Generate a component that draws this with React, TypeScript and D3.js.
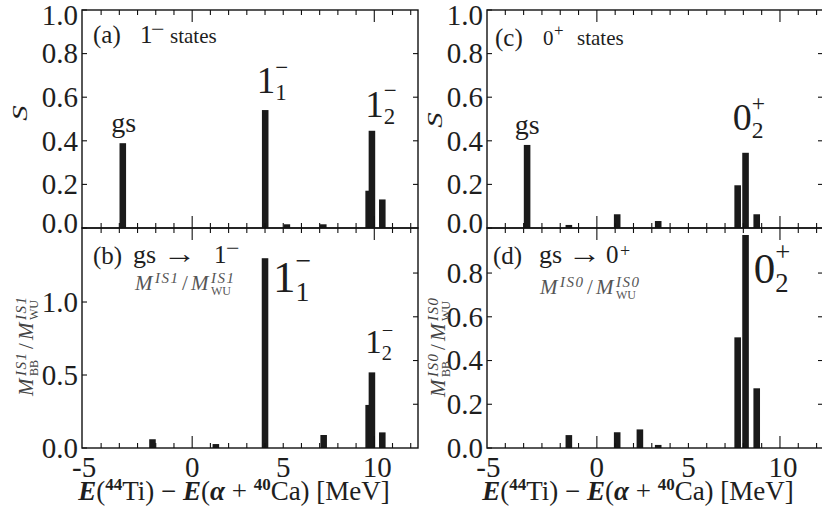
import React from 'react';
import * as d3 from 'd3';

const SERIF = '"Liberation Serif"';

// ---- data ----
const xTickValues = [-5, 0, 5, 10];
const xTickLabels = ['-5', '0', '5', '10'];
const xLongTicks = [0, 10];
const xMinorTicks = [-5, -4, -3, -2, -1, 0, 1, 2, 3, 4, 5, 6, 7, 8, 9, 10, 11, 12];

const yTicksS = [0, 0.2, 0.4, 0.6, 0.8, 1.0];
const yTickLabelsS = ['0.0', '0.2', '0.4', '0.6', '0.8', '1.0'];
const yTicksB = [0, 0.5, 1.0];
const yTickLabelsB = ['0.0', '0.5', '1.0'];
const yTicksD = [0, 0.2, 0.4, 0.6, 0.8];
const yTickLabelsD = ['0.0', '0.2', '0.4', '0.6', '0.8'];

// (a) 1- states, spectroscopic factor S
const energiesA = [-3.81, 4.01, 5.2, 7.2, 9.69, 9.87, 10.44];
const strengthA = [0.389, 0.541, 0.017, 0.017, 0.171, 0.446, 0.131];
// (b) gs -> 1- IS1 transition
const energiesB = [-2.18, 1.3, 4.0, 7.22, 9.69, 9.87, 10.44];
const strengthB = [0.06, 0.027, 1.3, 0.089, 0.295, 0.518, 0.107];
// (c) 0+ states, S
const energiesC = [-3.81, -1.53, 1.11, 3.35, 7.69, 8.12, 8.73];
const strengthC = [0.381, 0.014, 0.063, 0.032, 0.196, 0.345, 0.063];
// (d) gs -> 0+ IS0 transition
const energiesD = [-1.53, 1.11, 2.35, 3.35, 7.69, 8.12, 8.73];
const strengthD = [0.059, 0.072, 0.085, 0.014, 0.506, 0.974, 0.273];

// ---- layout ----
const W = 822, H = 510;
const LEFT = { x0: 82, x1: 418, domain: [-6.05, 12.4] };
const RIGHT = { x0: 487, x1: 823, domain: [-6.0, 12.35] };
const TOP = { y0: 228, y1: 10 };
const BOT = { y0: 448, y1: 228 };

const BAR_W = 0.36;
const INK = '#1a1a1a';
const TXT = '#1e1e1e';
const F = { fontFamily: SERIF };

type PanelProps = {
  xs: d3.ScaleLinear<number, number>;
  ys: d3.ScaleLinear<number, number>;
  ysRight: d3.ScaleLinear<number, number>;
  yTicks: number[];
  yLabels: string[];
  rightTicks: number[];
  energies: number[];
  values: number[];
  xLabels: boolean;
  upperPanel: boolean;
};

function Panel({ xs, ys, ysRight, yTicks, yLabels, rightTicks, energies, values, xLabels, upperPanel }: PanelProps) {
  const [x0, x1] = xs.range();
  const [yb, yt] = ys.range();
  const bw = Math.abs(xs(BAR_W) - xs(0));
  const labelShift = (i: number) => {
    if (!upperPanel) return 0;
    if (i === 0) return -5;
    if (i === yTicks.length - 1) return 5;
    return 0;
  };
  return (
    <g>
      {energies.map((e, i) => (
        <rect key={'b' + i} x={xs(e) - bw / 2} y={ys(values[i])} width={bw}
          height={yb - ys(values[i])} fill={INK} />
      ))}
      <rect x={x0} y={yt} width={x1 - x0} height={yb - yt} fill="none" stroke="#111" strokeWidth={1.4} />
      {xMinorTicks.map((v) => {
        const len = xLongTicks.includes(v) ? 12 : 5;
        const x = xs(v);
        return (
          <g key={'xt' + v}>
            <line x1={x} x2={x} y1={yb} y2={yb - len} stroke="#111" strokeWidth={1.1} />
            <line x1={x} x2={x} y1={yt} y2={yt + len} stroke="#111" strokeWidth={1.1} />
          </g>
        );
      })}
      {yTicks.map((v, i) => (
        <g key={'yt' + i}>
          <line x1={x0} x2={x0 + 5} y1={ys(v)} y2={ys(v)} stroke="#111" strokeWidth={1.1} />
          <text x={x0 - 4} y={ys(v) + labelShift(i)} dy="0.34em" textAnchor="end" fontSize={29}
            style={F} fill={TXT}>
            {yLabels[i]}
          </text>
        </g>
      ))}
      {rightTicks.map((v, i) => (
        <line key={'rt' + i} x1={x1} x2={x1 - 5} y1={ysRight(v)} y2={ysRight(v)} stroke="#111" strokeWidth={1.1} />
      ))}
      {xLabels && xTickValues.map((v, i) => (
        <text key={'xl' + i} x={xs(v) + (v === -5 ? -17 : v === 10 ? 3 : 0)} y={yb + 29}
          textAnchor="middle" fontSize={29} style={F} fill={TXT}>
          {xTickLabels[i]}
        </text>
      ))}
    </g>
  );
}

function StateLabel({ x, y, main, sub, sup, size }: { x: number; y: number; main: string; sub: string; sup: string; size: number }) {
  const sx = x + 0.5 * size;
  return (
    <g fill={TXT}>
      <text x={x} y={y} fontSize={size} style={F}>{main}</text>
      <text x={sx} y={y + 0.2 * size} fontSize={0.62 * size} style={F}>{sub}</text>
      <text x={sx} y={y - 0.5 * size} fontSize={0.62 * size} style={F}>{sup}</text>
    </g>
  );
}

// M^{IS mult} / M^{IS mult}_{WU}, optionally with BB subscript on the first M
function MRatio({ x, y, mult, bb, fill }: { x: number; y: number; mult: string; bb: boolean; fill: string }) {
  return (
    <g fill={fill}>
      <text x={x} y={y} fontSize={21} fontStyle="italic" style={F}>M</text>
      <text x={x + 20} y={y - 7} fontSize={15} fontStyle="italic" letterSpacing={1.5} style={F}>{'IS' + mult}</text>
      {bb && <text x={x + 20} y={y + 5} fontSize={12} style={F}>BB</text>}
      <text x={x + 47} y={y} fontSize={21} style={F}>/</text>
      <text x={x + 56} y={y} fontSize={21} fontStyle="italic" style={F}>M</text>
      <text x={x + 76} y={y - 7} fontSize={15} fontStyle="italic" letterSpacing={1.5} style={F}>{'IS' + mult}</text>
      <text x={x + 76} y={y + 5} fontSize={12} style={F}>WU</text>
    </g>
  );
}

function MYLabel({ cx, cy, mult }: { cx: number; cy: number; mult: string }) {
  return (
    <g transform={`translate(${cx},${cy}) rotate(-90)`}>
      <MRatio x={-52} y={8} mult={mult} bb={true} fill="#444" />
    </g>
  );
}

function SLabel({ cx, cy }: { cx: number; cy: number }) {
  return (
    <g transform={`translate(${cx},${cy}) rotate(-90)`}>
      <text x={0} y={6} textAnchor="middle" fontSize={22} fontStyle="italic" style={F}
        fill={TXT} transform="scale(1.4,1)">S</text>
    </g>
  );
}

function Arrow({ x, y }: { x: number; y: number }) {
  return (
    <text transform={`translate(${x},${y}) scale(1.2,1)`} fontSize={28} style={F} fill={TXT}>→</text>
  );
}

function XTitle({ cx, y }: { cx: number; y: number }) {
  return (
    <text x={cx} y={y} textAnchor="middle" fontSize={27} style={F} fill={TXT}>
      <tspan fontStyle="italic" fontWeight="bold">E</tspan>
      <tspan>(</tspan>
      <tspan fontSize={17} fontWeight="bold" dy={-10}>44</tspan>
      <tspan dy={10}>Ti) − </tspan>
      <tspan fontStyle="italic" fontWeight="bold">E</tspan>
      <tspan>(</tspan>
      <tspan fontStyle="italic" fontWeight="bold">α</tspan>
      <tspan> + </tspan>
      <tspan fontSize={17} fontWeight="bold" dy={-10}>40</tspan>
      <tspan dy={10}>Ca) [MeV]</tspan>
    </text>
  );
}

export default function App() {
  const xsL = d3.scaleLinear().domain(LEFT.domain).range([LEFT.x0, LEFT.x1]);
  const xsR = d3.scaleLinear().domain(RIGHT.domain).range([RIGHT.x0, RIGHT.x1]);
  const ysA = d3.scaleLinear().domain([0, 1.0]).range([TOP.y0, TOP.y1]);
  const ysB = d3.scaleLinear().domain([0, 1.507]).range([BOT.y0, BOT.y1]);
  const ysC = d3.scaleLinear().domain([0, 1.0]).range([TOP.y0, TOP.y1]);
  const ysD = d3.scaleLinear().domain([0, 1.006]).range([BOT.y0, BOT.y1]);

  const leftCenter = (LEFT.x0 + LEFT.x1) / 2 - 16;
  const rightCenter = (RIGHT.x0 + RIGHT.x1) / 2 - 17;

  return (
    <svg width={W} height={H} viewBox={`0 0 ${W} ${H}`}
      style={{ position: 'absolute', left: 0, top: 0, background: '#fff', fontFamily: SERIF }}>
      <style>{`text { font-family: "Liberation Serif", serif; }`}</style>
      <rect x={0} y={0} width={W} height={H} fill="#fff" />

      <Panel xs={xsL} ys={ysA} ysRight={ysA} yTicks={yTicksS} yLabels={yTickLabelsS} upperPanel={true}
        rightTicks={[0.2, 0.4, 0.6, 0.8]} energies={energiesA} values={strengthA} xLabels={false} />
      <Panel xs={xsL} ys={ysB} ysRight={ysD} yTicks={yTicksB} yLabels={yTickLabelsB} upperPanel={false}
        rightTicks={[0.2, 0.4, 0.6, 0.8]} energies={energiesB} values={strengthB} xLabels={true} />
      <Panel xs={xsR} ys={ysC} ysRight={ysC} yTicks={yTicksS} yLabels={yTickLabelsS} upperPanel={true}
        rightTicks={[0.2, 0.4, 0.6, 0.8]} energies={energiesC} values={strengthC} xLabels={false} />
      <Panel xs={xsR} ys={ysD} ysRight={ysD} yTicks={yTicksD} yLabels={yTickLabelsD} upperPanel={false}
        rightTicks={[0.2, 0.4, 0.6, 0.8]} energies={energiesD} values={strengthD} xLabels={true} />

      {/* panel headers */}
      <g fill={TXT}>
        <text x={93} y={43} fontSize={25} style={F}>(a)</text>
        <text x={140} y={43} fontSize={25} style={F}>1</text>
        <text x={151} y={37} fontSize={24} style={F}>−</text>
        <text x={170} y={43} fontSize={21} style={F}>states</text>

        <text x={93} y={264} fontSize={25} style={F}>(b)</text>
        <text x={133} y={263} fontSize={26} style={F}>gs</text>
        <text x={214} y={263} fontSize={25} style={F}>1</text>
        <text x={226} y={256} fontSize={24} style={F}>−</text>

        <text x={495} y={46} fontSize={25} style={F}>(c)</text>
        <text x={543} y={45} fontSize={21} style={F}>0</text>
        <text x={554} y={36} fontSize={17} style={F}>+</text>
        <text x={577} y={45} fontSize={21} style={F}>states</text>

        <text x={493} y={264} fontSize={25} style={F}>(d)</text>
        <text x={539} y={263} fontSize={26} style={F}>gs</text>
        <text x={606} y={263} fontSize={25} style={F}>0</text>
        <text x={620} y={257} fontSize={18} style={F}>+</text>
      </g>
      <Arrow x={163} y={263} />
      <Arrow x={568} y={263} />
      <MRatio x={135} y={290} mult="1" bb={false} fill="#555" />
      <MRatio x={540} y={294} mult="0" bb={false} fill="#555" />

      {/* state labels */}
      <text x={xsL(energiesA[0]) + 1} y={ysA(strengthA[0]) - 11} textAnchor="middle" fontSize={28}
        style={F} fill={TXT}>gs</text>
      <text x={xsR(energiesC[0]) + 0} y={ysC(strengthC[0]) - 11} textAnchor="middle" fontSize={28}
        style={F} fill={TXT}>gs</text>
      <StateLabel x={xsL(energiesA[1]) - 8.5} y={ysA(strengthA[1]) - 17} main="1" sub="1" sup="−" size={37} />
      <StateLabel x={xsL(energiesA[5]) - 6.7} y={ysA(strengthA[5]) - 14} main="1" sub="2" sup="−" size={37} />
      <StateLabel x={xsL(energiesB[2]) + 8} y={ysB(strengthB[2]) + 34} main="1" sub="1" sup="−" size={45} />
      <StateLabel x={xsL(energiesB[5]) - 6.7} y={ysB(strengthB[5]) - 19} main="1" sub="2" sup="−" size={33} />
      <StateLabel x={xsR(energiesC[5]) - 12.7} y={ysC(strengthC[5]) - 22.7} main="0" sub="2" sup="+" size={38} />
      <StateLabel x={xsR(energiesD[5]) + 8.3} y={ysD(strengthD[5]) + 48} main="0" sub="2" sup="+" size={43} />

      {/* y axis titles */}
      <SLabel cx={21} cy={113} />
      <SLabel cx={436} cy={120} />
      <MYLabel cx={25} cy={344} mult="1" />
      <MYLabel cx={437} cy={345} mult="0" />

      {/* x axis titles */}
      <XTitle cx={leftCenter} y={500} />
      <XTitle cx={rightCenter} y={500} />
    </svg>
  );
}
